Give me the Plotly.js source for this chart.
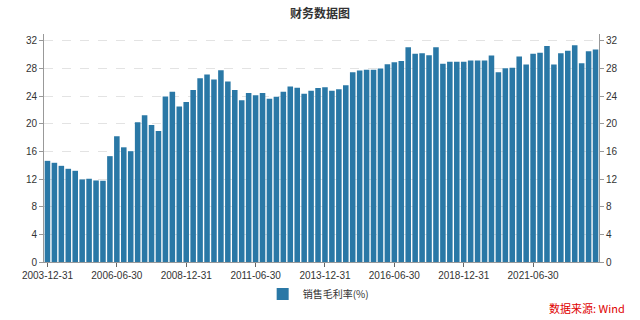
<!DOCTYPE html>
<html>
<head>
<meta charset="utf-8">
<script src="https://cdn.plot.ly/plotly-3.0.1.min.js"></script>
<style>html,body{margin:0;padding:0;background:#fff;}#chart{width:640px;height:320px;}</style>
</head>
<body>
<div id="chart"></div>
<script>
var categories = [
"2003-12-31",
"2004-03-31","2004-06-30","2004-09-30","2004-12-31",
"2005-03-31","2005-06-30","2005-09-30","2005-12-31",
"2006-03-31","2006-06-30","2006-09-30","2006-12-31",
"2007-03-31","2007-06-30","2007-09-30","2007-12-31",
"2008-03-31","2008-06-30","2008-09-30","2008-12-31",
"2009-03-31","2009-06-30","2009-09-30","2009-12-31",
"2010-03-31","2010-06-30","2010-09-30","2010-12-31",
"2011-03-31","2011-06-30","2011-09-30","2011-12-31",
"2012-03-31","2012-06-30","2012-09-30","2012-12-31",
"2013-03-31","2013-06-30","2013-09-30","2013-12-31",
"2014-03-31","2014-06-30","2014-09-30","2014-12-31",
"2015-03-31","2015-06-30","2015-09-30","2015-12-31",
"2016-03-31","2016-06-30","2016-09-30","2016-12-31",
"2017-03-31","2017-06-30","2017-09-30","2017-12-31",
"2018-03-31","2018-06-30","2018-09-30","2018-12-31",
"2019-03-31","2019-06-30","2019-09-30","2019-12-31",
"2020-03-31","2020-06-30","2020-09-30","2020-12-31",
"2021-03-31","2021-06-30","2021-09-30","2021-12-31",
"2022-03-31","2022-06-30","2022-09-30","2022-12-31",
"2023-03-31","2023-06-30","2023-09-30"
];
var grossMargin = [
14.64,
14.36,13.92,13.49,13.2,
11.95,12.05,11.8,11.76,
15.32,18.2,16.6,16.04,
20.22,21.23,19.84,18.97,
23.97,24.64,22.5,23.15,
24.88,26.6,27.14,26.42,
27.77,26.13,24.88,23.4,
24.45,24.12,24.45,23.63,
23.92,24.64,25.41,25.22,
24.36,24.8,25.2,25.3,
24.8,25.0,25.6,27.48,
27.72,27.82,27.82,28.0,
28.63,28.92,29.1,31.09,
30.13,30.22,29.93,31.09,
28.68,28.99,28.97,29.0,
29.16,29.16,29.16,29.88,
27.48,28.06,28.1,29.74,
28.59,30.13,30.27,31.28,
28.59,30.22,30.56,31.38,
28.78,30.5,30.75
];
var tickLabels = ["2003-12-31","2006-06-30","2008-12-31","2011-06-30","2013-12-31","2016-06-30","2018-12-31","2021-06-30"];
var yTicks = [0,4,8,12,16,20,24,28,32];
var seriesName = "销售毛利率(%)";
var chartTitle = "财务数据图";
var sourceText = "数据来源: Wind";

var FONT = "Liberation Sans, Arial, Noto Sans CJK SC, sans-serif";
var CJK = "Noto Sans CJK SC, sans-serif";
var barColor = "#2a78a6";

var traces = [
  {type:"bar", x:categories, y:grossMargin, name:seriesName, marker:{color:barColor}, hoverinfo:"x+y"},
  {type:"bar", x:categories, y:grossMargin, yaxis:"y2", showlegend:false, marker:{color:"rgba(0,0,0,0)"}, hoverinfo:"skip"}
];

var axisY = {
  range:[0,33], tickvals:yTicks, ticktext:yTicks.map(String),
  showline:true, linecolor:"#999", linewidth:1,
  ticks:"outside", ticklen:4, tickcolor:"#999",
  showgrid:true, gridcolor:"#e3e3e3", griddash:"dash", gridwidth:1,
  zeroline:false, tickfont:{size:10, color:"#333", family:FONT}
};

var layout = {
  width:640, height:320,
  margin:{l:44, r:41, t:34, b:56},
  paper_bgcolor:"#fff", plot_bgcolor:"#fff",
  font:{family:FONT, color:"#333"},
  title:{text:chartTitle, x:0.5, xanchor:"center", y:0.956, yanchor:"middle", font:{size:12, color:"#333", family:CJK, weight:"bold"}},
  bargap:0.2,
  xaxis:{
    type:"category", range:[-0.5, categories.length-0.5],
    tickvals:tickLabels, ticktext:tickLabels,
    showline:true, linecolor:"#999", linewidth:1,
    ticks:"outside", ticklen:4, tickcolor:"#666",
    showgrid:false, tickangle:0,
    tickfont:{size:10, color:"#333", family:FONT}
  },
  yaxis:axisY,
  yaxis2:Object.assign({}, axisY, {overlaying:"y", side:"right", showgrid:false}),
  showlegend:true,
  legend:{orientation:"h", x:0.494, xanchor:"center", y:-0.14, yanchor:"middle",
    font:{size:10, color:"#333", family:CJK}, itemwidth:30},
  annotations:[{text:sourceText, xref:"paper", yref:"paper", x:1.0505, xanchor:"right", y:-0.2, yanchor:"middle",
    showarrow:false, font:{size:11, color:"#e00000", family:CJK}}]
};

Plotly.newPlot("chart", traces, layout, {displayModeBar:false, staticPlot:true});
</script>
</body>
</html>
